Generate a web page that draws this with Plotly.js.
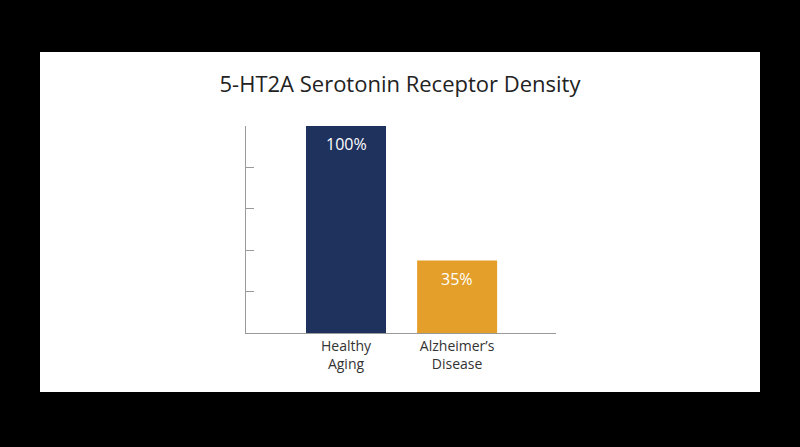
<!DOCTYPE html>
<html>
<head>
<meta charset="utf-8">
<script src="https://cdn.plot.ly/plotly-3.0.1.min.js"></script>
<style>
  html, body { margin: 0; padding: 0; background: #000; width: 800px; height: 447px; overflow: hidden; }
  #panel { position: absolute; left: 40px; top: 52px; width: 720px; height: 340px; background: #fff; }
</style>
</head>
<body>
<div id="panel"></div>
<script>
// values
var categories = ["Healthy<br>Aging", "Alzheimer’s<br>Disease"];
var density = [100, 35];
var barLabels = ["100%", "35%"];
var barColors = ["#1f325e", "#e49f2a"];
var yTicks = [0, 20, 40, 60, 80, 100];

var trace = {
  x: categories,
  y: density,
  type: 'bar',
  width: 0.72,
  marker: {color: barColors},
  hoverinfo: 'none'
};

// bar labels sit just under the top of each bar
var notes = [];
for (var i = 0; i < categories.length; i++) {
  notes.push({
    x: categories[i], y: density[i],
    text: barLabels[i],
    showarrow: false,
    yanchor: 'top', yshift: -5,
    font: {family: 'Open Sans', size: 16, color: '#fff'}
  });
}

var layout = {
  width: 720, height: 340,
  margin: {l: 206, r: 204, t: 74, b: 59},
  paper_bgcolor: '#fff',
  plot_bgcolor: '#fff',
  showlegend: false,
  title: {
    text: '5-HT2A Serotonin Receptor Density',
    x: 0.5, xanchor: 'center', y: 0.905, yanchor: 'middle',
    font: {family: 'Open Sans', size: 22, color: '#222'}
  },
  xaxis: {
    range: [-0.9, 1.89],
    showline: true, linecolor: '#9a9a9a', linewidth: 1,
    showgrid: false, zeroline: false, ticks: '',
    tickfont: {family: 'Open Sans', size: 14, color: '#333'},
    fixedrange: true
  },
  yaxis: {
    range: [0, 100],
    tickvals: yTicks,
    showticklabels: false,
    showline: true, linecolor: '#9a9a9a', linewidth: 1,
    ticks: 'inside', ticklen: 8, tickcolor: '#9a9a9a',
    showgrid: false, zeroline: false,
    fixedrange: true
  },
  annotations: notes
};

Plotly.newPlot('panel', [trace], layout, {displayModeBar: false, staticPlot: true});
</script>
</body>
</html>
